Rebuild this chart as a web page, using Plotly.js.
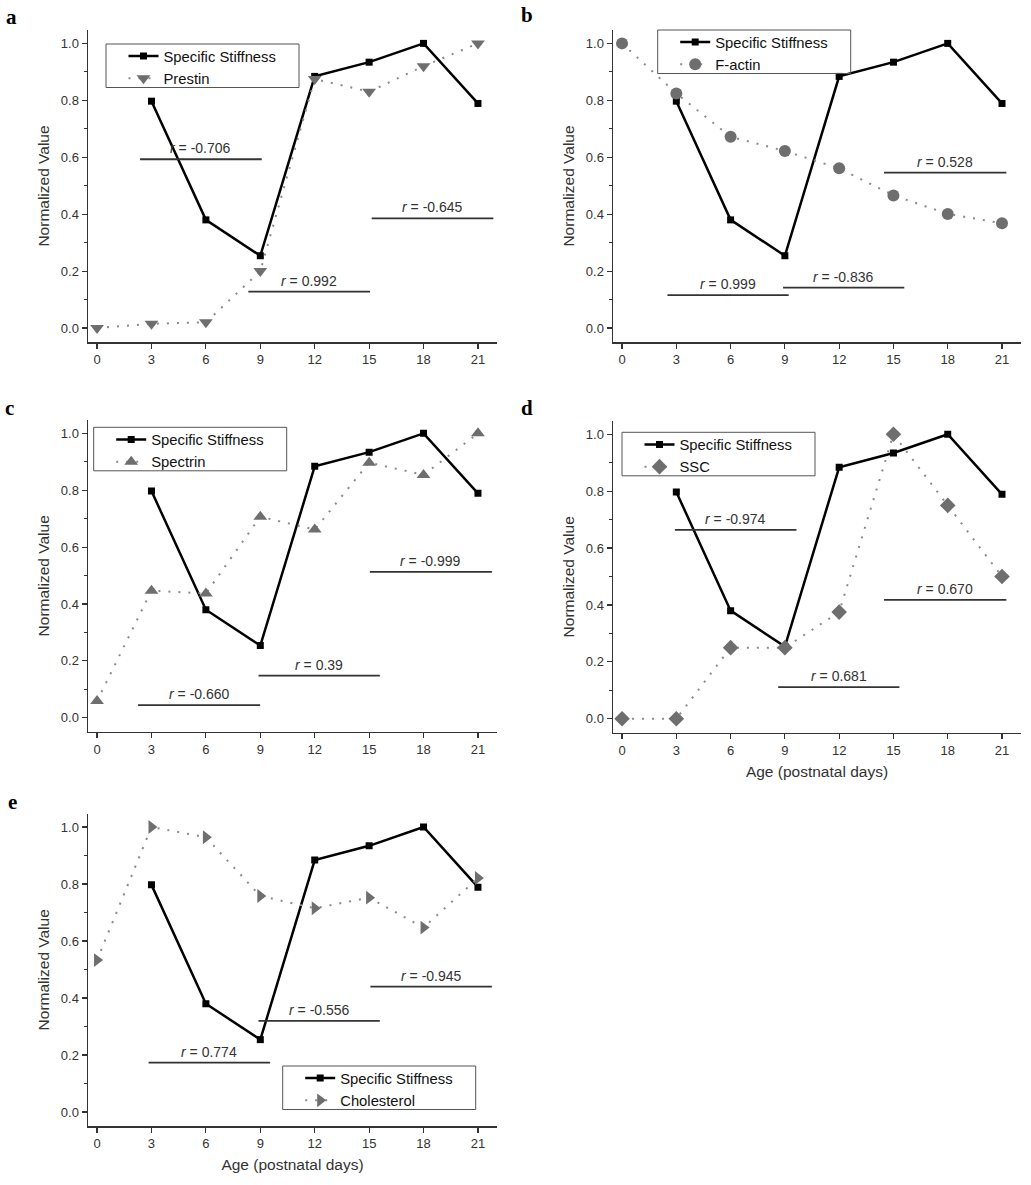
<!DOCTYPE html>
<html>
<head>
<meta charset="utf-8">
<script src="https://cdn.plot.ly/plotly-3.0.1.min.js"></script>
<style>html,body{margin:0;padding:0;background:#fff;}#chart{width:1031px;height:1185px;}</style>
</head>
<body>
<div id="chart"></div>
<script>
// ---- data ----
const days = [0, 3, 6, 9, 12, 15, 18, 21];
const stiffDays = [3, 6, 9, 12, 15, 18, 21];
const stiffness = [0.797, 0.380, 0.254, 0.884, 0.934, 1.0, 0.789];
const prestin = [0, 0.015, 0.02, 0.2, 0.875, 0.83, 0.92, 1.0];
const fActin = [1.0, 0.824, 0.672, 0.622, 0.561, 0.466, 0.401, 0.368];
const spectrin = [0.059, 0.447, 0.437, 0.707, 0.662, 0.897, 0.854, 1.0];
const ssc = [0, 0, 0.25, 0.25, 0.375, 1.0, 0.75, 0.5];
const cholesterol = [0.533, 1.0, 0.964, 0.758, 0.715, 0.752, 0.647, 0.821];

const seriesNames = ['Prestin', 'F-actin', 'Spectrin', 'SSC', 'Cholesterol'];
const panelLetters = ['a', 'b', 'c', 'd', 'e'];

// correlation segments per panel: start day, end day, level, label
const rStart = [[2.37, 8.34, 15.14], [2.51, 8.9, 14.48], [2.26, 8.9, 15.04], [2.92, 8.63, 14.48], [2.84, 8.9, 15.07]];
const rEnd   = [[9.08, 15.05, 21.85], [9.21, 15.6, 21.24], [8.99, 15.59, 21.77], [9.64, 15.33, 21.24], [9.54, 15.59, 21.77]];
const rLevel = [[0.593, 0.128, 0.385], [0.116, 0.142, 0.546], [0.0445, 0.148, 0.513], [0.664, 0.111, 0.418], [0.173, 0.32, 0.44]];
const rLabel = [['-0.706', '0.992', '-0.645'], ['0.999', '-0.836', '0.528'], ['-0.660', '0.39', '-0.999'], ['-0.974', '0.681', '0.670'], ['0.774', '-0.556', '-0.945']];

// ---- layout geometry ----
const W = 1031, H = 1185;
const series = [prestin, fActin, spectrin, ssc, cholesterol];
const symbols = ['triangle-down', 'circle', 'triangle-up', 'diamond', 'triangle-right'];
const boxes = [ // left, right, top, bottom in px
  [88, 497, 30, 342], [613, 1021, 30, 342],
  [88, 497, 420, 731.7], [613, 1021, 420.9, 732.7],
  [88, 497, 813.6, 1126]
];
const legendBox = [[106, 44], [657.7, 30], [93.7, 427.3], [622, 432.3], [282.7, 1066]];
const LEG_W = 193, LEG_H = 43.5;
const letterPos = [[11, 17], [527, 15], [9, 408], [527, 408], [12, 802]];

const FONT = 'Liberation Sans, Arial, sans-serif';
const AX = '#333';
const traces = [];
const layout = {
  width: W, height: H,
  margin: {l: 0, r: 0, t: 0, b: 0},
  paper_bgcolor: '#fff', plot_bgcolor: '#fff',
  font: {family: FONT, size: 13, color: '#222'},
  shapes: [], annotations: []
};

for (let p = 0; p < 5; p++) {
  const sfx = p === 0 ? '' : String(p + 1);
  const xa = 'x' + sfx, ya = 'y' + sfx;
  const legName = p === 0 ? 'legend' : 'legend' + (p + 1);
  const b = boxes[p];
  traces.push({
    x: stiffDays, y: stiffness, name: 'Specific Stiffness', type: 'scatter', mode: 'lines+markers',
    xaxis: xa, yaxis: ya, legend: legName,
    line: {color: '#000', width: 2.5},
    marker: {symbol: 'square', size: 7, color: '#000'}
  });
  traces.push({
    x: days, y: series[p], name: seriesNames[p], type: 'scatter', mode: 'lines+markers',
    xaxis: xa, yaxis: ya, legend: legName,
    line: {color: '#8a8a8a', width: 2, dash: '2px,8px'},
    marker: {symbol: symbols[p], size: 12, color: '#6e6e6e'}
  });
  layout['xaxis' + sfx] = {
    domain: [b[0] / W, b[1] / W], anchor: ya,
    range: [-0.5, 22.05], tick0: 0, dtick: 3,
    showline: true, linecolor: AX, linewidth: 1.5,
    ticks: 'outside', ticklen: 5, tickcolor: AX, tickwidth: 1.2,
    showgrid: false, zeroline: false,
    tickfont: {size: 13, color: '#333'},
    title: (p === 3 || p === 4) ? {text: 'Age (postnatal days)', font: {size: 15.5, color: '#333'}, standoff: 9} : {text: ''}
  };
  layout['yaxis' + sfx] = {
    domain: [1 - b[3] / H, 1 - b[2] / H], anchor: xa,
    range: [-0.049, 1.047], tick0: 0, dtick: 0.2, tickformat: '.1f',
    showline: true, linecolor: AX, linewidth: 1.5,
    ticks: 'outside', ticklen: 5, tickcolor: AX, tickwidth: 1.2,
    minor: {dtick: 0.1, ticks: 'outside', ticklen: 3, tickcolor: AX, tickwidth: 1},
    showgrid: false, zeroline: false,
    tickfont: {size: 13, color: '#333'},
    title: {text: 'Normalized Value', font: {size: 15.5, color: '#333'}, standoff: 7}
  };
  const lb = legendBox[p];
  layout.shapes.push({
    type: 'rect', xref: 'paper', yref: 'paper',
    x0: lb[0] / W, x1: (lb[0] + LEG_W) / W, y0: 1 - lb[1] / H, y1: 1 - (lb[1] + LEG_H) / H,
    line: {color: '#555', width: 1}, fillcolor: 'rgba(0,0,0,0)'
  });
  layout[legName] = {
    x: (lb[0] + 17.5) / W, y: 1 - (lb[1] - 4) / H, xanchor: 'left', yanchor: 'top',
    xref: 'paper', yref: 'paper',
    bgcolor: 'rgba(255,255,255,0)', borderwidth: 0,
    font: {size: 14.8, color: '#111', family: FONT},
    tracegroupgap: 0
  };
  for (let k = 0; k < 3; k++) {
    layout.shapes.push({
      type: 'line', xref: xa, yref: ya,
      x0: rStart[p][k], x1: rEnd[p][k], y0: rLevel[p][k], y1: rLevel[p][k],
      line: {color: '#333', width: 1.8}
    });
    layout.annotations.push({
      xref: xa, yref: ya, x: (rStart[p][k] + rEnd[p][k]) / 2, y: rLevel[p][k],
      text: '<i>r</i> = ' + rLabel[p][k], showarrow: false,
      xanchor: 'center', yanchor: 'bottom', yshift: 1,
      font: {size: 14, color: '#333', family: FONT}
    });
  }
  layout.annotations.push({
    xref: 'paper', yref: 'paper', x: letterPos[p][0] / W, y: 1 - letterPos[p][1] / H,
    xanchor: 'center', yanchor: 'middle', showarrow: false,
    text: '<b>' + panelLetters[p] + '</b>',
    font: {family: 'Liberation Serif, Times New Roman, serif', size: 21, color: '#000'}
  });
}

Plotly.newPlot('chart', traces, layout, {displayModeBar: false, staticPlot: true});
</script>
</body>
</html>
